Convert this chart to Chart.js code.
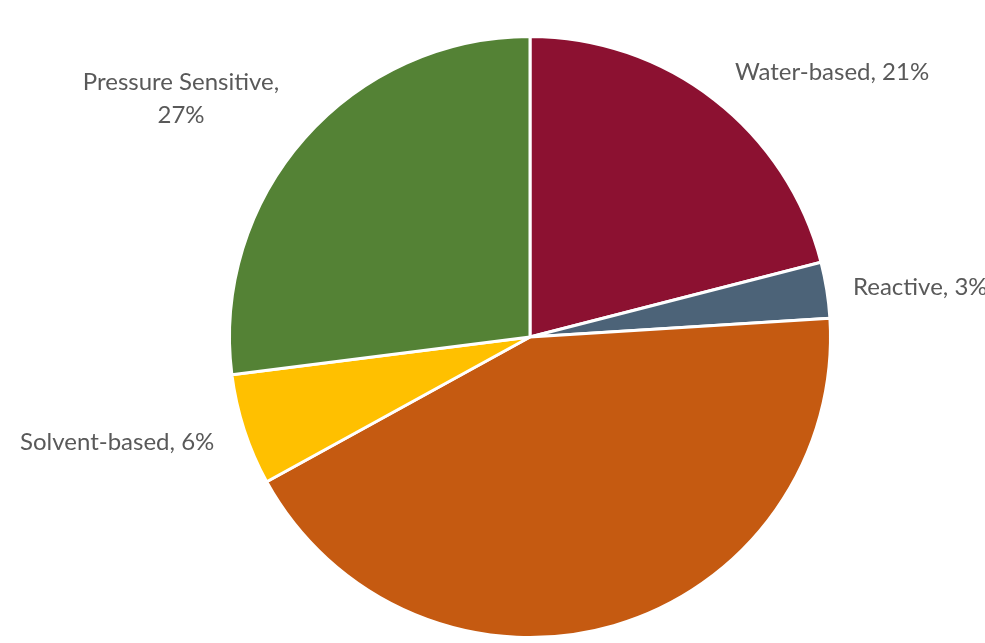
<!DOCTYPE html>
<html>
<head>
<meta charset="utf-8">
<script src="https://cdn.jsdelivr.net/npm/chart.js@4.4.0/dist/chart.umd.min.js"></script>
<style>
  html, body { margin: 0; padding: 0; background: #fff; }
  #wrap { width: 985px; height: 643px; }
</style>
</head>
<body>
<div id="wrap"><canvas id="pie" width="985" height="643"></canvas></div>
<script>
// data (clockwise from 12 o'clock)
const categories = ["Water-based", "Reactive", "Hot Melt", "Solvent-based", "Pressure Sensitive"];
const shares = [21, 3, 43, 6, 27];
const sliceColors = ["#8c1131", "#4c6378", "#c55a11", "#ffc000", "#548235"];
const showLabel = [true, true, false, true, true];

// label placement (text layout only), relative to the canvas
const labelSpots = [
  { x: 735, y: 72, align: "left", lines: ["Water-based, 21%"] },
  { x: 853, y: 287, align: "left", lines: ["Reactive, 3%"] },
  null,
  { x: 20, y: 442, align: "left", lines: ["Solvent-based, 6%"] },
  { x: 181, y: 82, align: "center", lines: ["Pressure Sensitive,", "27%"] }
];

const labelPlugin = {
  id: "sliceLabels",
  afterDraw(chart) {
    const ctx = chart.ctx;
    ctx.save();
    ctx.font = "24px Lato, 'Open Sans', sans-serif";
    ctx.fillStyle = "#595959";
    ctx.textBaseline = "middle";
    categories.forEach((c, i) => {
      const spot = labelSpots[i];
      if (!showLabel[i] || !spot) return;
      ctx.textAlign = spot.align;
      spot.lines.forEach((t, k) => ctx.fillText(t, spot.x, spot.y + k * 33));
    });
    ctx.restore();
  }
};

new Chart(document.getElementById("pie").getContext("2d"), {
  type: "pie",
  data: {
    labels: categories,
    datasets: [{
      data: shares,
      backgroundColor: sliceColors,
      borderColor: "#ffffff",
      borderWidth: 3
    }]
  },
  options: {
    responsive: false,
    animation: false,
    layout: { padding: { top: 35, bottom: 4, left: 180, right: 105 } },
    plugins: {
      legend: { display: false },
      tooltip: { enabled: false }
    }
  },
  plugins: [labelPlugin]
});
</script>
</body>
</html>
